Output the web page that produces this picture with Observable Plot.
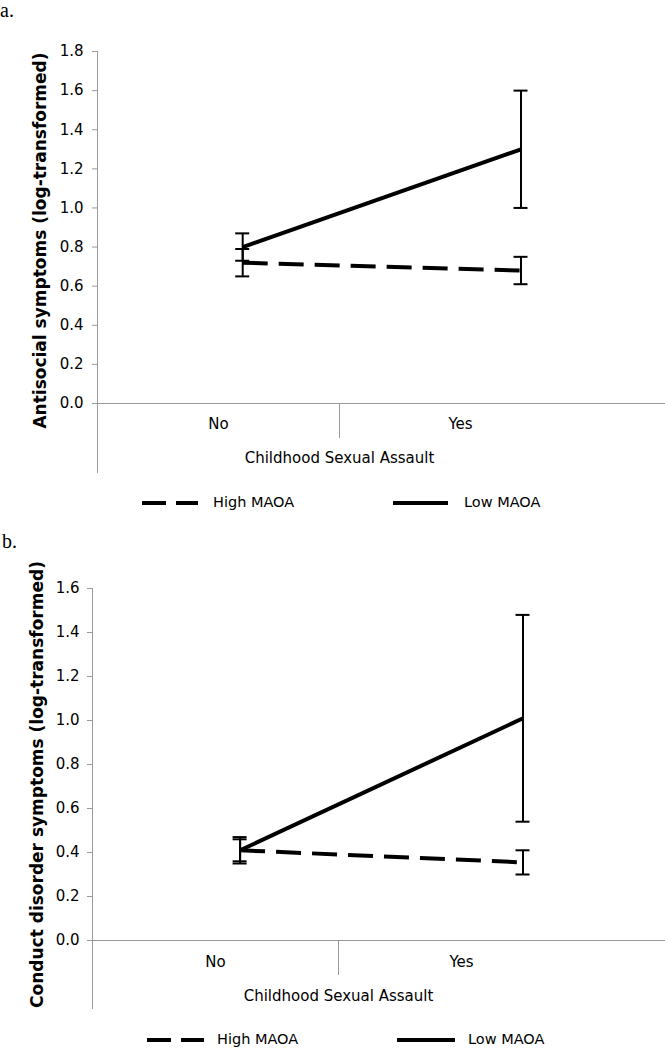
<!DOCTYPE html>
<html><head><meta charset="utf-8">
<script src="https://cdn.jsdelivr.net/npm/d3@7"></script>
<script src="https://cdn.jsdelivr.net/npm/@observablehq/plot@0.6"></script>
<style>
body{margin:0;background:#fff;}
#wrap{position:relative;width:665px;height:1049px;overflow:hidden;font-family:"DejaVu Sans",Verdana,sans-serif;background:#fff;}
.abs{position:absolute;}
.plabel{font-family:"Liberation Serif","Times New Roman",serif;font-size:20px;line-height:1;}
.legtxt{font-size:14.5px;color:#000;line-height:1;white-space:nowrap;}
</style></head><body><div id="wrap"></div>
<script>
// ---- shared categories ----
const categories = ["No", "Yes"];
const groups = ["High MAOA", "Low MAOA"];
const xPositions = [0.6, 1.75];        // where the points sit along the category axis
const xTitle = "Childhood Sexual Assault";

// ---- panel a: Antisocial symptoms ----
const aTitle = "Antisocial symptoms (log-transformed)";
const aHighMean = [0.72, 0.68];
const aHighLow  = [0.65, 0.61];
const aHighHigh = [0.79, 0.75];
const aLowMean  = [0.80, 1.30];
const aLowLow   = [0.73, 1.00];
const aLowHigh  = [0.87, 1.60];
const aTicks = [0, 0.2, 0.4, 0.6, 0.8, 1.0, 1.2, 1.4, 1.6, 1.8];

// ---- panel b: Conduct disorder symptoms ----
const bTitle = "Conduct disorder symptoms (log-transformed)";
const bHighMean = [0.41, 0.355];
const bHighLow  = [0.36, 0.30];
const bHighHigh = [0.46, 0.41];
const bLowMean  = [0.41, 1.01];
const bLowLow   = [0.35, 0.54];
const bLowHigh  = [0.47, 1.48];
const bTicks = [0, 0.2, 0.4, 0.6, 0.8, 1.0, 1.2, 1.4, 1.6];

function rows(highM, highL, highH, lowM, lowL, lowH) {
  const out = [];
  categories.forEach((c, i) => {
    out.push({group: groups[0], cat: c, pos: xPositions[i], mean: highM[i], lo: highL[i], hi: highH[i]});
    out.push({group: groups[1], cat: c, pos: xPositions[i], mean: lowM[i], lo: lowL[i], hi: lowH[i]});
  });
  return out;
}

function panel(cfg) {
  const data = cfg.data;
  return Plot.plot({
    width: 665, height: cfg.height,
    marginLeft: cfg.ml, marginRight: 0, marginTop: cfg.mt, marginBottom: cfg.mb,
    x: {domain: [0, cfg.xmax], axis: null},
    y: {domain: [0, cfg.ticks[cfg.ticks.length - 1]], axis: null},
    style: {fontFamily: '"DejaVu Sans", Verdana, sans-serif', fontSize: "15px", color: "#000", background: "transparent", overflow: "visible"},
    marks: [
      Plot.ruleY([0], {stroke: "#9a9a9a", strokeWidth: 1}),
      Plot.ruleX([0], {stroke: "#9a9a9a", strokeWidth: 1, insetBottom: -cfg.ext}),
      Plot.ruleX([categories.length / 2], {y1: 0, y2: 0, insetBottom: -35, stroke: "#9a9a9a", strokeWidth: 1}),
      Plot.axisY({ticks: cfg.ticks, tickSize: 5, tickPadding: cfg.tp, tickFormat: d => d.toFixed(1), stroke: "#9a9a9a", fill: "#000", fontSize: 15, label: null}),
      Plot.text(categories, {x: (d, i) => i + 0.5, text: d => d, frameAnchor: "bottom", dy: cfg.catDy, fontSize: 15}),
      Plot.text([xTitle], {x: () => categories.length / 2, text: d => d, frameAnchor: "bottom", dy: cfg.titleDy, fontSize: 15}),
      Plot.text([cfg.yTitle], {text: d => d, frameAnchor: "left", textAnchor: "middle", lineAnchor: "middle", rotate: -90, dx: cfg.yTitleDx, dy: cfg.yTitleDy, fontWeight: "bold", fontSize: 17}),
      Plot.line(data.filter(d => d.group === groups[0]), {x: "pos", y: "mean", stroke: "#000", strokeWidth: 4, strokeDasharray: "25,11", strokeLinecap: "butt"}),
      Plot.line(data.filter(d => d.group === groups[1]), {x: "pos", y: "mean", stroke: "#000", strokeWidth: 4, strokeLinecap: "butt"}),
      Plot.ruleX(data, {x: "pos", y1: "lo", y2: "hi", stroke: "#000", strokeWidth: 2}),
      Plot.ruleY(data, {y: "lo", x1: "pos", x2: "pos", insetLeft: -7, insetRight: -7, stroke: "#000", strokeWidth: 2}),
      Plot.ruleY(data, {y: "hi", x1: "pos", x2: "pos", insetLeft: -7, insetRight: -7, stroke: "#000", strokeWidth: 2})
    ]
  });
}

const wrap = document.getElementById("wrap");

function place(el, left, top) {
  el.classList.add("abs");
  el.style.left = left + "px";
  el.style.top = top + "px";
  wrap.appendChild(el);
  return el;
}

function legend(y, dashX, highX, solidX, lowX) {
  const svg = d3.create("svg").attr("width", 665).attr("height", 12).attr("class", "abs")
    .style("left", "0px").style("top", (y - 6) + "px");
  svg.append("line").attr("x1", dashX[0]).attr("x2", dashX[1]).attr("y1", 6).attr("y2", 6)
    .attr("stroke", "#000").attr("stroke-width", 4).attr("stroke-dasharray", "24,10");
  svg.append("line").attr("x1", solidX[0]).attr("x2", solidX[1]).attr("y1", 6).attr("y2", 6)
    .attr("stroke", "#000").attr("stroke-width", 4);
  wrap.appendChild(svg.node());
  const t1 = document.createElement("div"); t1.className = "legtxt"; t1.textContent = groups[0];
  place(t1, highX, y - 8);
  const t2 = document.createElement("div"); t2.className = "legtxt"; t2.textContent = groups[1];
  place(t2, lowX, y - 8);
}

// panel a
const pa = panel({
  data: rows(aHighMean, aHighLow, aHighHigh, aLowMean, aLowLow, aLowHigh),
  height: 480, ml: 97, mt: 51, mb: 77, xmax: 568 / 242, ticks: aTicks, ext: 70, tp: 9,
  catDy: 25, titleDy: 59, yTitle: aTitle, yTitleDx: -57, yTitleDy: 13
});
place(pa, 0, 0);
legend(503, [142, 198], 213, [393, 448], 464);
const la = document.createElement("div"); la.className = "plabel"; la.textContent = "a.";
place(la, 0, 0);

// panel b
const pb = panel({
  data: rows(bHighMean, bHighLow, bHighHigh, bLowMean, bLowLow, bLowHigh),
  height: 490, ml: 92, mt: 58, mb: 80, xmax: 573 / 246, ticks: bTicks, ext: 69, tp: 8,
  catDy: 26, titleDy: 60, yTitle: bTitle, yTitleDx: -55, yTitleDy: 20
});
place(pb, 0, 530);
legend(1040, [147, 204], 217, [397, 455], 468);
const lb = document.createElement("div"); lb.className = "plabel"; lb.textContent = "b.";
place(lb, 2, 531);
</script></body></html>
